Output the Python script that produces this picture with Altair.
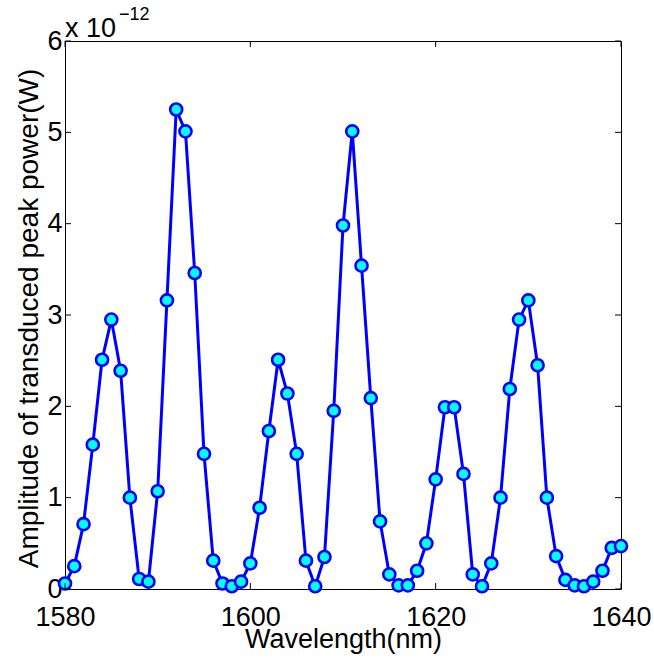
import altair as alt
import pandas as pd

# ---- data (values in units of 1e-12 W) ----
wavelength = list(range(1580, 1641))
amplitude = [0.06, 0.25, 0.71, 1.58, 2.51, 2.95, 2.39, 1.00, 0.11, 0.08,
             1.07, 3.16, 5.25, 5.01, 3.46, 1.48, 0.31, 0.06, 0.03, 0.08,
             0.28, 0.89, 1.73, 2.51, 2.14, 1.48, 0.31, 0.03, 0.35, 1.95,
             3.98, 5.01, 3.54, 2.09, 0.74, 0.16, 0.04, 0.04, 0.20, 0.50,
             1.20, 1.99, 1.99, 1.26, 0.16, 0.03, 0.28, 1.00, 2.19, 2.95,
             3.16, 2.45, 1.00, 0.36, 0.10, 0.04, 0.03, 0.08, 0.20, 0.45, 0.47]
x_ticks = [1580, 1600, 1620, 1640]
y_ticks = [0, 1, 2, 3, 4, 5, 6]
exp_base = ["x 10"]
exp_power = ["\u221212"]

FONT = "Liberation Sans"
W, H = 556, 548

df = pd.DataFrame({"wavelength": wavelength, "amplitude": amplitude})
xt = pd.DataFrame({"wavelength": x_ticks})
yt = pd.DataFrame({"amplitude": y_ticks})

xscale = alt.Scale(domain=[1580, 1640], nice=False, zero=False)
yscale = alt.Scale(domain=[0, 6], nice=False, zero=True)

x_axis = alt.Axis(values=x_ticks, format="d", ticks=False, domain=False,
                  grid=False, labelFlush=False, labelFont=FONT,
                  labelFontSize=27, labelColor="black", labelPadding=15,
                  title="Wavelength(nm)", titleFont=FONT, titleFontSize=27,
                  titleFontWeight="normal", titleColor="black",
                  titleBaseline="alphabetic", titleY=58)
y_axis = alt.Axis(values=y_ticks, format="d", ticks=False, domain=False,
                  grid=False, labelFont=FONT, labelFontSize=27,
                  labelColor="black", labelPadding=3,
                  title="Amplitude of transduced peak power(W)",
                  titleFont=FONT, titleFontSize=28, titleFontWeight="normal",
                  titleColor="black", titleAngle=270, titleAlign="center",
                  titleBaseline="alphabetic", titleX=-28, titleY=277)

x_enc = alt.X("wavelength:Q", scale=xscale, axis=x_axis)
y_enc = alt.Y("amplitude:Q", scale=yscale, axis=y_axis)

line = alt.Chart(df).mark_line(color="#0000FF", strokeWidth=3).encode(x=x_enc, y=y_enc)
pts = alt.Chart(df).mark_point(shape="circle", filled=True, fill="#00FFFF",
                               stroke="#0000FF", strokeWidth=2.6, size=145,
                               opacity=1).encode(x=x_enc, y=y_enc)

xb = alt.Chart(xt).mark_rule(color="black", strokeWidth=1).encode(
    x=x_enc, y=alt.value(H), y2=alt.value(H - 6))
xtop = alt.Chart(xt).mark_rule(color="black", strokeWidth=1).encode(
    x=x_enc, y=alt.value(0), y2=alt.value(6))
yl = alt.Chart(yt).mark_rule(color="black", strokeWidth=1).encode(
    y=y_enc, x=alt.value(0), x2=alt.value(6))
yr = alt.Chart(yt).mark_rule(color="black", strokeWidth=1).encode(
    y=y_enc, x=alt.value(W), x2=alt.value(W - 6))

t1 = alt.Chart(pd.DataFrame({"t": exp_base})).mark_text(
    font=FONT, fontSize=27, align="left", baseline="alphabetic", color="black").encode(
    text="t:N", x=alt.value(0), y=alt.value(-4))
t2 = alt.Chart(pd.DataFrame({"t": exp_power})).mark_text(
    font=FONT, fontSize=18, align="left", baseline="alphabetic", color="black").encode(
    text="t:N", x=alt.value(54), y=alt.value(-21))

chart = alt.layer(line, pts, xb, xtop, yl, yr, t1, t2).properties(
    width=W, height=H,
    autosize=alt.AutoSizeParams(type="none"),
    padding={"left": 65, "top": 41, "right": 33, "bottom": 71},
    background="white",
).configure_view(stroke="black", strokeWidth=1)

chart.save("out.html", embed_options={"renderer": "svg", "actions": False})
